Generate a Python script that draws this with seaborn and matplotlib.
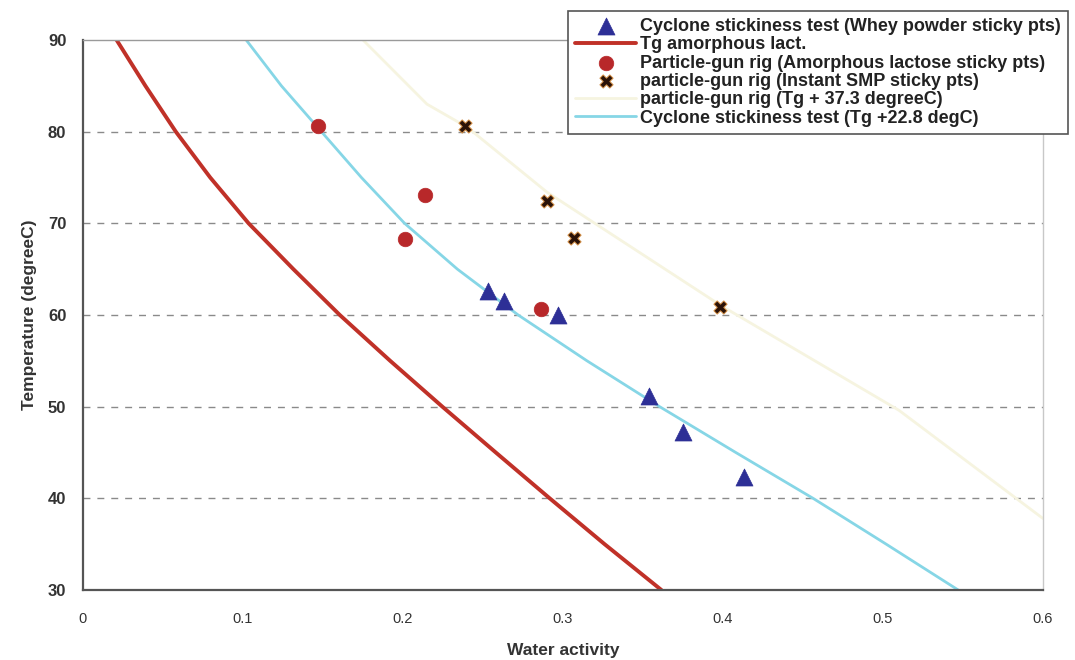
import numpy as np
import pandas as pd
import matplotlib
matplotlib.use("Agg")
import matplotlib.pyplot as plt
import seaborn as sns

# ---- data ----
tg_aw = [0.021, 0.039, 0.058, 0.0795, 0.1035, 0.1315, 0.1605, 0.192, 0.2246,
         0.258, 0.2917, 0.326, 0.3615]
tg_T = [90, 85, 80, 75, 70, 65, 60, 55, 50, 45, 40, 35, 30]

cyc_line_aw = [0.102, 0.124, 0.149, 0.174, 0.201, 0.234, 0.272, 0.315, 0.3604,
               0.408, 0.4563, 0.502, 0.547]
cyc_line_T = [90, 85, 80, 75, 70, 65, 60, 55, 50, 45, 40, 35, 30]

pg_line_aw = [0.175, 0.215, 0.240, 0.290, 0.399, 0.510, 0.600]
pg_line_T = [90, 83, 80.5, 73.4, 61.0, 49.6, 37.8]

whey_aw = [0.253, 0.263, 0.297, 0.354, 0.375, 0.413]
whey_T = [62.6, 61.5, 60.0, 51.2, 47.2, 42.3]

lact_aw = [0.147, 0.214, 0.201, 0.286]
lact_T = [80.6, 73.1, 68.3, 60.7]

smp_aw = [0.239, 0.290, 0.307, 0.398]
smp_T = [80.6, 72.4, 68.4, 60.9]

xticks = [0, 0.1, 0.2, 0.3, 0.4, 0.5, 0.6]
xticklabels = ["0", "0.1", "0.2", "0.3", "0.4", "0.5", "0.6"]
yticks = [30, 40, 50, 60, 70, 80, 90]

lbl_whey = "Cyclone stickiness test (Whey powder sticky pts)"
lbl_tg = "Tg amorphous lact."
lbl_lact = "Particle-gun rig (Amorphous lactose sticky pts)"
lbl_smp = "particle-gun rig (Instant SMP sticky pts)"
lbl_pg = "particle-gun rig (Tg + 37.3 degreeC)"
lbl_cyc = "Cyclone stickiness test (Tg +22.8 degC)"

# ---- styling ----
sns.set_style("white")
plt.rcParams["font.family"] = ["Liberation Sans", "DejaVu Sans"]

fig = plt.figure(figsize=(10.75, 6.6), dpi=100)
ax = fig.add_axes([83 / 1075, 1 - 590 / 660, (1043 - 83) / 1075, (590 - 40) / 660])

df_tg = pd.DataFrame({"aw": tg_aw, "T": tg_T})
df_cyc = pd.DataFrame({"aw": cyc_line_aw, "T": cyc_line_T})
df_pg = pd.DataFrame({"aw": pg_line_aw, "T": pg_line_T})
df_whey = pd.DataFrame({"aw": whey_aw, "T": whey_T})
df_lact = pd.DataFrame({"aw": lact_aw, "T": lact_T})
df_smp = pd.DataFrame({"aw": smp_aw, "T": smp_T})

# grid lines
for y in [40, 50, 60, 70, 80]:
    ax.axhline(y, color="#8a8a8a", lw=1.0, ls=(0, (5, 5)), zorder=0.5)

sns.lineplot(data=df_pg, x="aw", y="T", ax=ax, color="#f6f4e0", lw=2.0,
             label=lbl_pg, sort=False, zorder=1)
sns.lineplot(data=df_tg, x="aw", y="T", ax=ax, color="#c03128", lw=2.8,
             label=lbl_tg, sort=False, zorder=2)
sns.lineplot(data=df_cyc, x="aw", y="T", ax=ax, color="#86d6e6", lw=2.0,
             label=lbl_cyc, sort=False, zorder=2)
sns.scatterplot(data=df_whey, x="aw", y="T", ax=ax, marker="^", s=150,
                color="#2d2f96", edgecolor="#2d2f96", linewidth=0.5,
                label=lbl_whey, zorder=4)
sns.scatterplot(data=df_lact, x="aw", y="T", ax=ax, marker="o", s=110,
                color="#b8282a", edgecolor="#b8282a", linewidth=0.5,
                label=lbl_lact, zorder=4)
sns.scatterplot(data=df_smp, x="aw", y="T", ax=ax, marker="X", s=90,
                color="#2a1208", edgecolor="#d08a40", linewidth=0.7,
                label=lbl_smp, zorder=4)

ax.set_xlim(0, 0.6)
ax.set_ylim(30, 90)
ax.set_xticks(xticks)
ax.set_xticklabels(xticklabels)
ax.set_yticks(yticks)
ax.tick_params(axis="both", direction="out", length=4, width=1,
               color="#666666", labelsize=10.5, labelcolor="#333333")
ax.tick_params(axis="x", pad=12)
ax.tick_params(axis="y", pad=8)
for lab in ax.get_yticklabels():
    lab.set_fontweight("bold")
    lab.set_fontsize(12)

for side in ["left", "bottom"]:
    ax.spines[side].set_color("#555555")
    ax.spines[side].set_linewidth(1.6)
ax.spines["top"].set_color("#9a9a9a")
ax.spines["top"].set_linewidth(1.0)
ax.spines["right"].set_color("#c8c8c8")
ax.spines["right"].set_linewidth(1.0)

ax.set_xlabel("Water activity", fontsize=12.5, fontweight="bold",
              color="#333333", labelpad=12)
ax.set_ylabel("Temperature (degreeC)", fontsize=12.5, fontweight="bold",
              color="#333333", labelpad=8)

handles, labels = ax.get_legend_handles_labels()
hmap = dict(zip(labels, handles))
order = [lbl_whey, lbl_tg, lbl_lact, lbl_smp, lbl_pg, lbl_cyc]
ax.get_legend().remove()
leg = fig.legend([hmap[l] for l in order], order,
                 loc="upper right", bbox_to_anchor=(1068 / 1075, 1 - 11 / 660),
                 frameon=True, fancybox=False, framealpha=1,
                 edgecolor="#555555", handlelength=3.4, handletextpad=0.2,
                 labelspacing=0.07, borderpad=0.4, borderaxespad=0,
                 prop={"size": 13, "weight": "bold"})
leg.get_frame().set_linewidth(1.2)
for t in leg.get_texts():
    t.set_color("#222222")

fig.savefig("out.png", dpi=100, facecolor="white")
